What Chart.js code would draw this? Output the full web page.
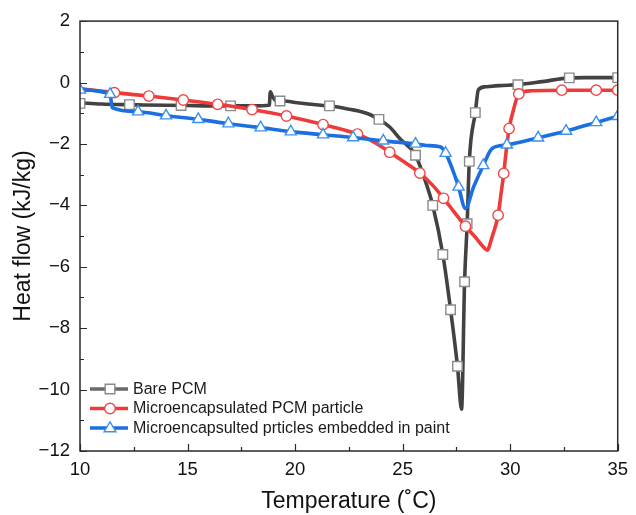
<!DOCTYPE html>
<html>
<head>
<meta charset="utf-8">
<script src="https://cdn.jsdelivr.net/npm/chart.js@4.4.0/dist/chart.umd.min.js"></script>
<style>
html,body{margin:0;padding:0;background:#fff;}
#wrap{width:636px;height:515px;position:relative;}
</style>
</head>
<body>
<div id="wrap"><canvas id="c" width="636" height="515"></canvas></div>
<script>
// ---- Data ----
const seriesNames = ['Bare PCM', 'Microencapsulated PCM particle', 'Microencapsulted prticles embedded in paint'];

// Bare PCM curve
const bareT = [10, 11, 12, 13, 14, 15, 16, 17, 18, 18.8, 18.85, 18.95, 19.1, 19.5, 20, 20.6, 21.2, 21.9, 22.6, 22.9, 23.5, 23.9, 24.4, 24.9, 25.3, 25.6, 26.1, 26.4, 26.87, 27.23, 27.55, 27.74, 27.88, 28.0, 28.1, 28.38, 28.52, 28.84, 29.5, 30.36, 31.5, 32.75, 33.5, 35];
const bareH = [-0.66, -0.7, -0.72, -0.73, -0.74, -0.75, -0.76, -0.76, -0.76, -0.74, -0.3, -0.45, -0.58, -0.6, -0.65, -0.7, -0.74, -0.79, -0.88, -0.92, -1.05, -1.2, -1.45, -1.85, -2.1, -2.37, -3.3, -4.0, -5.6, -7.4, -9.24, -10.64, -6.49, -4.6, -2.57, -0.98, -0.24, -0.14, -0.1, -0.07, 0.03, 0.15, 0.16, 0.16];
// Bare PCM markers
const bareMT = [10, 12.3, 14.7, 17.0, 19.3, 21.6, 23.9, 25.6, 26.4, 26.87, 27.23, 27.55, 27.88, 28.0, 28.1, 28.38, 30.36, 32.75, 35];
const bareMH = [-0.68, -0.72, -0.75, -0.76, -0.6, -0.76, -1.2, -2.37, -4.0, -5.6, -7.4, -9.24, -6.49, -4.6, -2.57, -0.98, -0.07, 0.15, 0.16];

// Microencapsulated PCM particle curve
const microT = [10, 11.6, 13.2, 14.8, 16.4, 18.0, 19.6, 21.3, 22.9, 23.7, 24.4, 25.1, 25.8, 26.4, 26.9, 27.4, 27.92, 28.4, 28.75, 28.93, 29.15, 29.44, 29.58, 29.7, 29.82, 29.95, 30.15, 30.4, 31, 32.4, 34, 35];
const microH = [-0.2, -0.33, -0.44, -0.57, -0.71, -0.88, -1.09, -1.37, -1.68, -1.95, -2.27, -2.6, -2.95, -3.35, -3.77, -4.22, -4.68, -5.05, -5.35, -5.46, -5.05, -4.32, -3.6, -2.96, -2.2, -1.5, -0.9, -0.37, -0.27, -0.25, -0.25, -0.25];
const microMT = [11.6, 13.2, 14.8, 16.4, 18.0, 19.6, 21.3, 22.9, 24.4, 25.8, 26.9, 27.92, 29.44, 29.7, 29.95, 30.4, 32.4, 34.0, 35];
const microMH = [-0.33, -0.44, -0.57, -0.71, -0.88, -1.09, -1.37, -1.68, -2.27, -2.95, -3.77, -4.68, -4.32, -2.96, -1.5, -0.37, -0.25, -0.25, -0.25];

// Microencapsulated particles embedded in paint curve
const paintT = [10, 11.4, 11.5, 12.7, 14, 15.5, 16.9, 18.4, 19.8, 21.3, 22.7, 24.1, 25.6, 26.1, 26.77, 27.0, 27.46, 27.6, 27.92, 28.3, 28.75, 29.16, 29.85, 31.3, 32.6, 34, 35];
const paintH = [-0.24, -0.38, -0.82, -0.95, -1.08, -1.2, -1.34, -1.47, -1.6, -1.7, -1.79, -1.9, -2.0, -2.05, -2.1, -2.3, -3.1, -3.4, -4.1, -3.4, -2.7, -2.15, -2.03, -1.8, -1.58, -1.3, -1.1];
const paintMT = [10, 11.4, 12.7, 14, 15.5, 16.9, 18.4, 19.8, 21.3, 22.7, 24.1, 25.6, 27.0, 27.6, 28.75, 29.85, 31.3, 32.6, 34, 35];
const paintMH = [-0.24, -0.38, -0.95, -1.08, -1.2, -1.34, -1.47, -1.6, -1.7, -1.79, -1.9, -2.0, -2.3, -3.4, -2.7, -2.03, -1.8, -1.58, -1.3, -1.1];

// Axis ticks
const xMajorTicks = [10, 15, 20, 25, 30, 35];
const xMinorTicks = [12.5, 17.5, 22.5, 27.5, 32.5];
const yMajorTicks = [2, 0, -2, -4, -6, -8, -10, -12];
const yMinorTicks = [1, -1, -3, -5, -7, -9, -11];

// ---- Build ----
const pts = (xs, ys) => xs.map((x, i) => ({x: x, y: ys[i]}));
const colors = {
  bare: '#424242', bareMk: '#8a8a8a',
  micro: '#ef3a3a', microMk: '#f04848',
  paint: '#1b6fe0', paintMk: '#3e90ea'
};
const FONT = '"Liberation Sans", Arial, sans-serif';

function lineDs(label, data, color, order) {
  return {label, data, showLine: true, borderColor: color, borderWidth: 3.6,
    pointRadius: 0, pointHoverRadius: 0, tension: 0.25, cubicInterpolationMode: 'monotone', order, clip: 0, fill: false};
}
function markDs(label, data, color, style, radius, order) {
  return {label, data, showLine: false, pointStyle: style, pointRadius: radius, pointHoverRadius: radius,
    pointBorderColor: color, pointBackgroundColor: '#ffffff', pointBorderWidth: 1.4, order, clip: 0};
}

const legendItems = [
  {text: seriesNames[0], line: '#6a6a6a', mk: colors.bareMk, style: 'rect', r: 4.8},
  {text: seriesNames[1], line: colors.micro, mk: colors.microMk, style: 'circle', r: 5.3},
  {text: seriesNames[2], line: colors.paint, mk: colors.paintMk, style: 'triangle', r: 6.2}
];

const framePlugin = {
  id: 'frame',
  afterDatasetsDraw(chart) {
    const ctx = chart.ctx, a = chart.chartArea;
    const xs = chart.scales.x, ys = chart.scales.y;
    ctx.save();
    ctx.strokeStyle = '#2a2a2a';
    ctx.lineWidth = 1.5;
    ctx.strokeRect(a.left, a.top, a.right - a.left, a.bottom - a.top);
    ctx.lineWidth = 1.2;
    ctx.beginPath();
    xMajorTicks.forEach(v => { const p = Math.round(xs.getPixelForValue(v)) + 0.5; ctx.moveTo(p, a.bottom); ctx.lineTo(p, a.bottom - 7); });
    xMinorTicks.forEach(v => { const p = Math.round(xs.getPixelForValue(v)) + 0.5; ctx.moveTo(p, a.bottom); ctx.lineTo(p, a.bottom - 4); });
    yMajorTicks.forEach(v => { const p = Math.round(ys.getPixelForValue(v)) + 0.5; ctx.moveTo(a.left, p); ctx.lineTo(a.left + 7, p); });
    yMinorTicks.forEach(v => { const p = Math.round(ys.getPixelForValue(v)) + 0.5; ctx.moveTo(a.left, p); ctx.lineTo(a.left + 4, p); });
    ctx.stroke();
    // legend
    const lx0 = a.left + 10, lx1 = a.left + 48, mx = a.left + 30, tx = a.left + 53;
    const rowY = [389, 408.5, 428];
    ctx.font = '16px ' + FONT;
    ctx.textBaseline = 'middle';
    ctx.textAlign = 'left';
    legendItems.forEach((it, i) => {
      const y = rowY[i];
      ctx.strokeStyle = it.line; ctx.lineWidth = 3.6;
      ctx.beginPath(); ctx.moveTo(lx0, y); ctx.lineTo(lx1, y); ctx.stroke();
      ctx.fillStyle = '#fff'; ctx.strokeStyle = it.mk; ctx.lineWidth = 1.4;
      ctx.beginPath();
      if (it.style === 'rect') { ctx.rect(mx - it.r, y - it.r, it.r * 2, it.r * 2); }
      else if (it.style === 'circle') { ctx.arc(mx, y, it.r, 0, Math.PI * 2); }
      else { ctx.moveTo(mx, y - it.r); ctx.lineTo(mx + it.r * 0.95, y + it.r * 0.6); ctx.lineTo(mx - it.r * 0.95, y + it.r * 0.6); ctx.closePath(); }
      ctx.fill(); ctx.stroke();
      ctx.fillStyle = '#1a1a1a';
      ctx.fillText(it.text, tx, y + 0.5);
    });
    ctx.restore();
  }
};

new Chart(document.getElementById('c'), {
  type: 'scatter',
  data: {
    datasets: [
      lineDs(seriesNames[0], pts(bareT, bareH), colors.bare, 6),
      markDs(seriesNames[0], pts(bareMT, bareMH), colors.bareMk, 'rect', 6.7, 5),
      lineDs(seriesNames[1], pts(microT, microH), colors.micro, 4),
      markDs(seriesNames[1], pts(microMT, microMH), colors.microMk, 'circle', 5.2, 3),
      lineDs(seriesNames[2], pts(paintT, paintH), colors.paint, 2),
      markDs(seriesNames[2], pts(paintMT, paintMH), colors.paintMk, 'triangle', 6.4, 1)
    ]
  },
  options: {
    responsive: false,
    animation: false,
    events: [],
    layout: {padding: {top: 19, right: 12, left: 0, bottom: 0}},
    plugins: {legend: {display: false}, tooltip: {enabled: false}},
    scales: {
      x: {
        type: 'linear', min: 10, max: 35,
        afterFit(s) { s.height = 64; },
        grid: {display: false, drawTicks: false},
        border: {display: false},
        ticks: {stepSize: 5, padding: 8, color: '#111', font: {family: FONT, size: 18.5}, maxRotation: 0,
          callback: v => String(v)},
        title: {display: true, text: 'Temperature (˚C)', color: '#111', font: {family: FONT, size: 23}, padding: 0}
      },
      y: {
        type: 'linear', min: -12, max: 2,
        afterFit(s) { s.width = 80; },
        grid: {display: false, drawTicks: false},
        border: {display: false},
        ticks: {stepSize: 2, padding: 10, color: '#111', font: {family: FONT, size: 18.5},
          callback: v => String(v).replace('-', '\u2212')},
        title: {display: true, text: 'Heat flow (kJ/kg)', color: '#111', font: {family: FONT, size: 23}, padding: {top: 10, bottom: 0}}
      }
    }
  },
  plugins: [framePlugin]
});
</script>
</body>
</html>
